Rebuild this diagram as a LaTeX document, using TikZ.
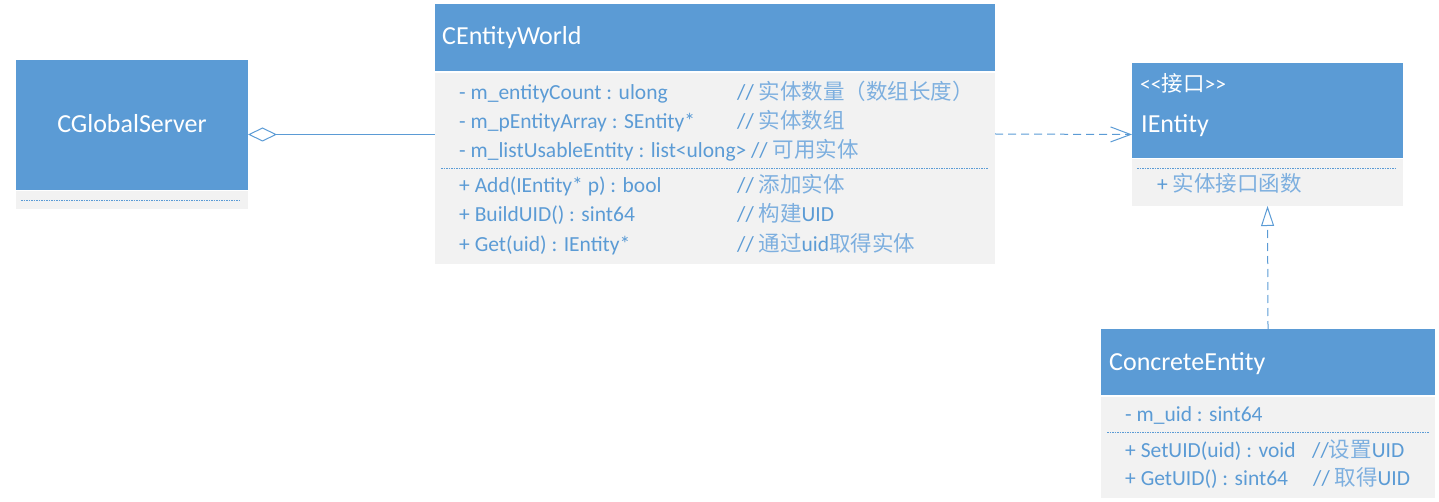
\documentclass[tikz,border=0pt]{standalone}
\usepackage{fontspec}
\setmainfont{Carlito}
\newfontfamily\cjk{Noto Sans CJK SC}
\newcommand{\zh}[1]{{\cjk #1}}
\newcommand{\zc}[1]{{\cjk\color{notecol}#1}}
\usepackage{tikz}
\usetikzlibrary{arrows.meta,fit,positioning}
\definecolor{umlblue}{HTML}{5B9BD5}
\definecolor{umlgrey}{HTML}{F2F2F2}
\definecolor{notecol}{HTML}{7DAFDF}
\tikzset{
	head/.style={fill=umlblue, anchor=north west, inner sep=0pt, outer sep=0pt},
	body/.style={fill=umlgrey, anchor=north west, inner sep=0pt, outer sep=0pt},
	whole/.style={inner sep=0pt, outer sep=0pt},
	title/.style={text=white, anchor=base west, inner sep=0pt, font=\fontsize{26}{30}\selectfont},
	member/.style={text=umlblue, anchor=base west, inner sep=0pt, font=\fontsize{21.5}{26}\selectfont},
	sep/.style={draw=umlblue, line width=0.8pt, dash pattern=on 1.5pt off 1pt},
	link/.style={draw=umlblue, line width=1pt},
	dep/.style={link, dash pattern=on 8pt off 5pt},
}

\begin{document}
\begin{tikzpicture}[x=1pt, y=-1pt]
	\useasboundingbox (0,0) rectangle (1439,502);
	% CGlobalServer
	\node[head, minimum width=232pt, minimum height=130pt] (gshead) at (16,60) {};
	\node[body, minimum width=232pt, minimum height=18pt] (gsbody) at (16,191) {};
	\node[whole, fit=(gshead)(gsbody)] (gs) {};
	\node[title, anchor=base] (gsname) at (132,133) {CGlobalServer};
	\draw[sep] (21,200) -- (241,200);
	% CEntityWorld
	\node[head, minimum width=560pt, minimum height=67pt] (wdhead) at (435,4) {};
	\node[body, minimum width=560pt, minimum height=191pt] (wdbody) at (435,73) {};
	\node[whole, fit=(wdhead)(wdbody)] (world) {};
	\node[title] (wdname) at (442,45) {CEntityWorld};
	\node[member] (wdattr1) at (459,100) {- m\_entityCount : ulong};
	\node[member] (wdattr2) at (459,129) {- m\_pEntityArray : SEntity*};
	\node[member] (wdattr3) at (459,158) {- m\_listUsableEntity : list<ulong> // \zc{可用实体}};
	\node[member] (wdnote1) at (737,100) {// \zc{实体数量（数组长度）}};
	\node[member] (wdnote2) at (737,129) {// \zc{实体数组}};
	\draw[sep] (441,168.5) -- (988,168.5);
	\node[member] (wdop1) at (459,193) {+ Add(IEntity* p) : bool};
	\node[member] (wdop2) at (459,222) {+ BuildUID() : sint64};
	\node[member] (wdop3) at (459,251.5) {+ Get(uid) : IEntity*};
	\node[member] (wdnote4) at (737,193) {// \zc{添加实体}};
	\node[member] (wdnote5) at (737,222) {// \zc{构建}UID};
	\node[member] (wdnote6) at (737,251.5) {// \zc{通过}uid\zc{取得实体}};
	% IEntity
	\node[head, minimum width=271pt, minimum height=95pt] (iehead) at (1132,63) {};
	\node[body, minimum width=271pt, minimum height=47pt] (iebody) at (1132,159) {};
	\node[whole, fit=(iehead)(iebody)] (ient) {};
	\node[member, text=white] (iestereo) at (1140,92) {<{}<\zh{接口}>{}>};
	\node[title] (iename) at (1141,133) {IEntity};
	\draw[sep] (1137,168.5) -- (1397,168.5);
	\node[member] (ieop1) at (1157,192) {+ \zc{实体接口函数}};
	% ConcreteEntity
	\node[head, minimum width=334pt, minimum height=66pt] (cehead) at (1101,329) {};
	\node[body, minimum width=334pt, minimum height=101pt] (cebody) at (1101,397) {};
	\node[whole, fit=(cehead)(cebody)] (conc) {};
	\node[title] (cename) at (1109,370) {ConcreteEntity};
	\node[member] (ceattr1) at (1125,421) {- m\_uid : sint64};
	\draw[sep] (1107,432.5) -- (1429,432.5);
	\node[member] (ceop1) at (1125,457) {+ SetUID(uid) : void};
	\node[member] (ceop2) at (1125,485) {+ GetUID() : sint64};
	\node[member] (cenote1) at (1312,457) {//\zc{设置}UID};
	\node[member] (cenote2) at (1313,485) {// \zc{取得}UID};
	% relations
	\draw[link, {Diamond[open, length=29pt, width=14pt]}-] (gs.east) -- (gs.east -| world.west);
	\draw[dep, -{Straight Barb[length=20pt, width=15pt]}] (world.east) -- (ient.west);
	\draw[dep, -{Triangle[open, length=20pt, width=13pt]}] (conc.north) -- (ient.south);
\end{tikzpicture}
\end{document}
